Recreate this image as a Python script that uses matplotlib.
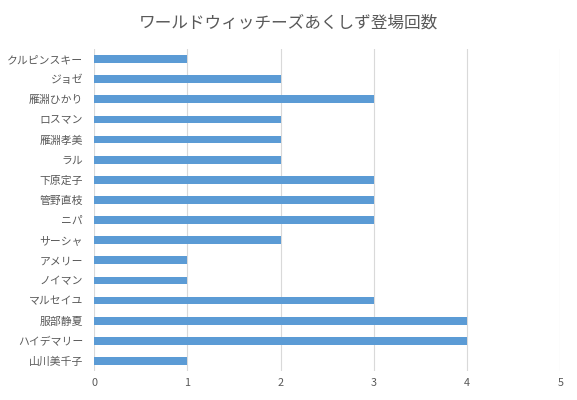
import matplotlib
matplotlib.use('Agg')
import matplotlib.pyplot as plt

plt.rcParams['font.family'] = ['Noto Sans CJK JP', 'DejaVu Sans']

# data (top to bottom as shown)
names = ['クルピンスキー', 'ジョゼ', '雁淵ひかり', 'ロスマン', '雁淵孝美', 'ラル',
         '下原定子', '管野直枝', 'ニパ', 'サーシャ', 'アメリー', 'ノイマン',
         'マルセイユ', '服部静夏', 'ハイデマリー', '山川美千子']
counts = [1, 2, 3, 2, 2, 2, 3, 3, 3, 2, 1, 1, 3, 4, 4, 1]
x_ticks = [0, 1, 2, 3, 4, 5]

text_color = '#595959'

fig = plt.figure(figsize=(5.77, 4.0), dpi=100)
ax = fig.add_axes([0.1634, 0.0725, 0.8076, 0.805])

pos = list(range(len(names)))
ax.barh(pos, counts, height=0.38, color='#5B9BD5', zorder=3)
ax.set_yticks(pos)
ax.set_yticklabels(names)
ax.set_ylim(len(names) - 0.5, -0.5)
ax.set_xlim(0, 5)
ax.set_xticks(x_ticks)

ax.grid(axis='x', color='#D9D9D9', linewidth=0.8, zorder=0)
for s in ax.spines.values():
    s.set_visible(False)
ax.tick_params(axis='both', length=0, colors=text_color, labelsize=7.8)
ax.tick_params(axis='y', pad=8)
ax.tick_params(axis='x', pad=5)

fig.text(0.5, 0.942, 'ワールドウィッチーズあくしず登場回数', ha='center', va='center',
         fontsize=12, color=text_color)

fig.savefig('out.png', dpi=100)
